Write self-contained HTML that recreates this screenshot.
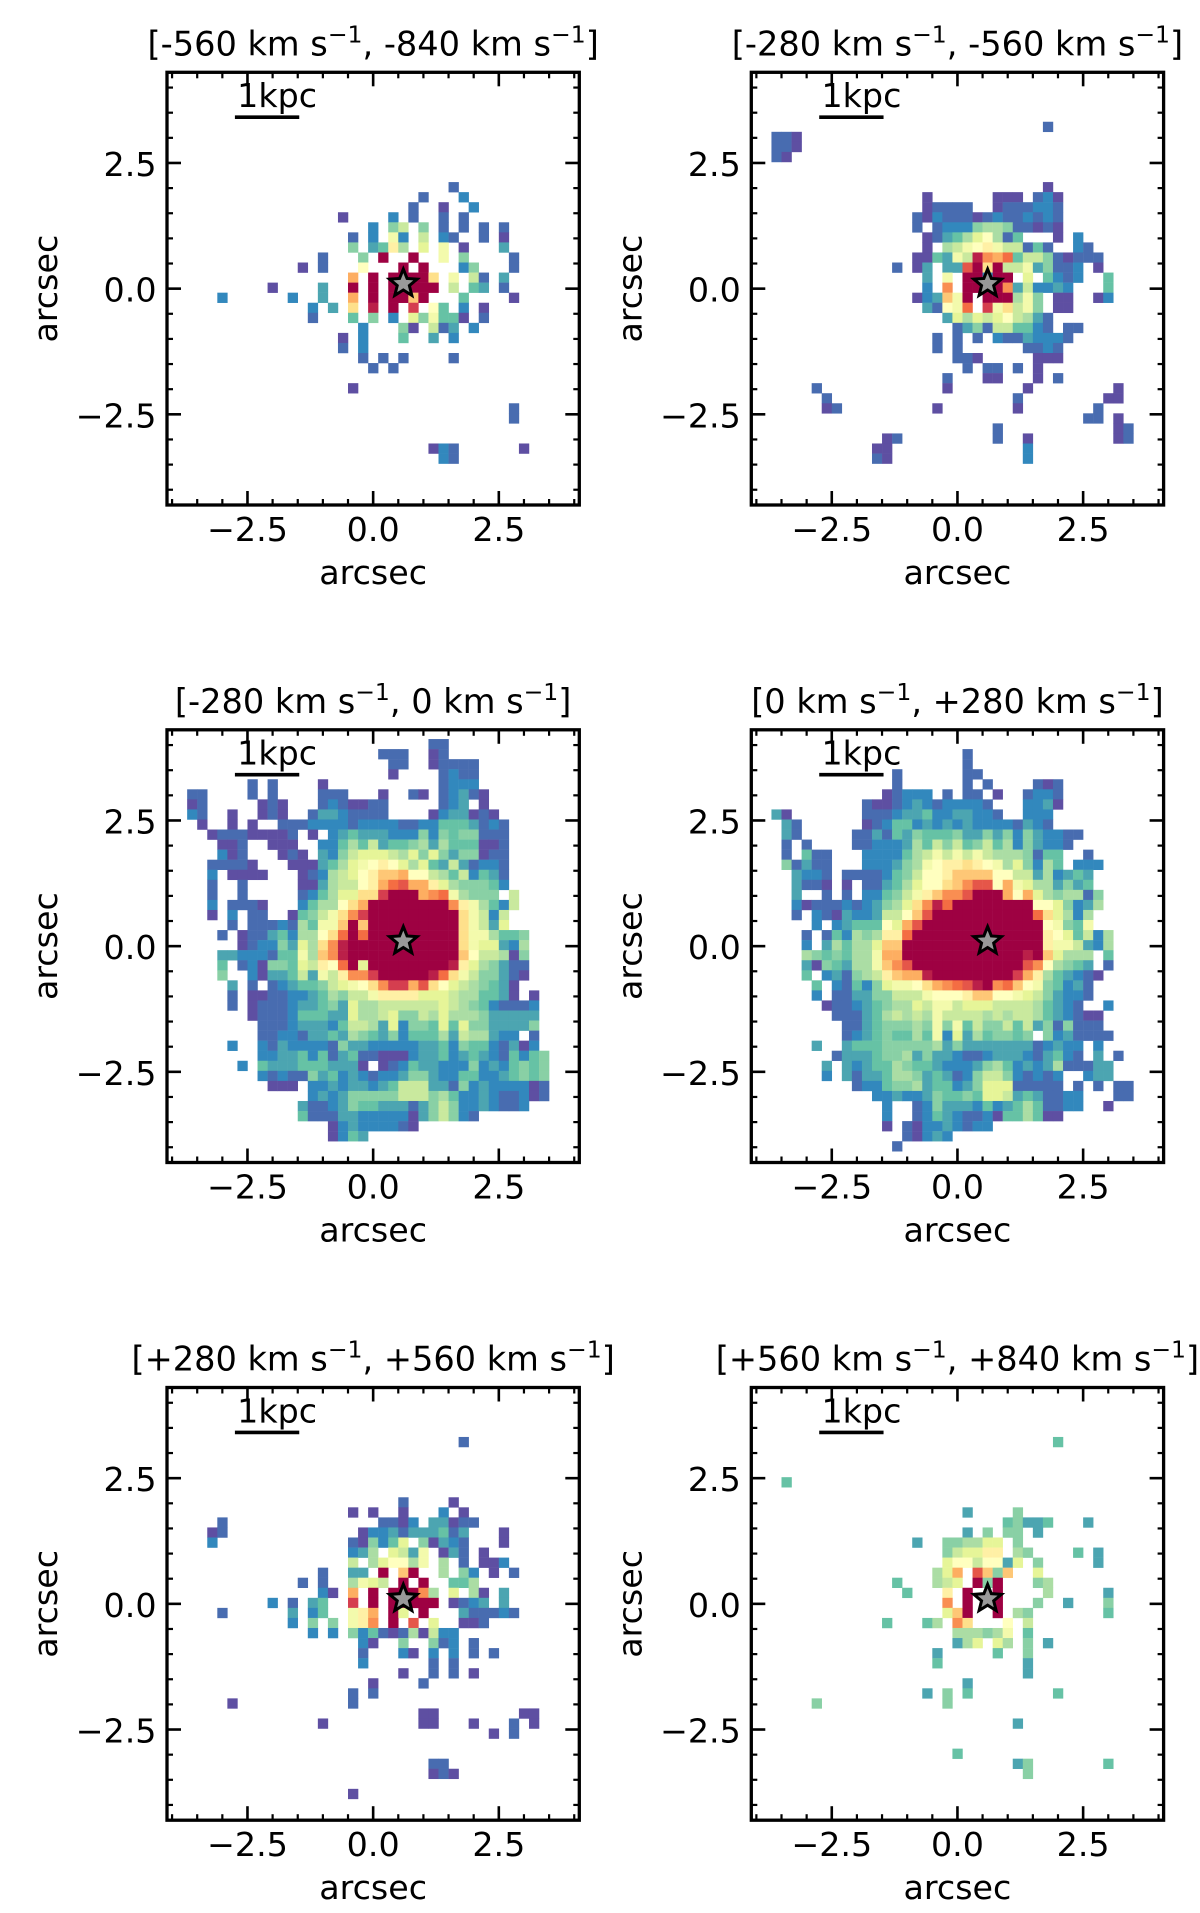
<!DOCTYPE html>
<html lang="en">
<head>
<meta charset="utf-8">
<title>Velocity channel maps</title>
<style>
html,body{margin:0;padding:0;background:#fff;width:1200px;height:1913px;overflow:hidden}
svg{display:block}
text{font-family:"DejaVu Sans","Liberation Sans",sans-serif;fill:#000}
</style>
</head>
<body>
<svg id="figure" xmlns="http://www.w3.org/2000/svg" width="1200" height="1913" viewBox="0 0 1200 1913"></svg>
<script>
// Each entry: [row index, first column index, value, value, ...]; holes are masked pixels.
// A pixel is 0.2 arcsec wide; values run from 0 (faint) to 20 (bright).
const panel1Cells = [
[10,8,1],[9,5,1,,,,2],[8,4,1,,,0,,,2],[7,-3,0,,,,,2,,1,,,1,,1],
[6,0,2,,5,7,,5,,1,,1,,1,,1],[5,-2,1,,2,,9,2,,7,,2,1,,,1,,0],
[4,-2,5,,3,4,11,6,,8,,9,,0,,,,3],[3,-5,1,,,,5,,20,,,20,,,9,,5,,,,,1],
[2,-7,0,,1,,,,10,,,,20,,20,,,,2,5,,,,1],[1,-2,14,,20,,20,20,20,20,12,,9,,7,1,,3],
[0,-10,0,,,,,3,,,20,,20,,20,20,20,20,20,,7,,4,3,,1],
[-1,-15,2,,,,,,,2,,,3,,,14,,20,,20,20,13,20,,,,4,,,,,0],
[-2,-6,2,,3,,12,,19,,20,,18,,10,4,,2,,0],[-3,-6,1,,,,4,,5,,2,,8,5,9,4,4,0,,1],
[-4,-1,2,,,,5,0,,7,1,3,,2],[-5,-3,0,,2,,,,4,,,3,,2],[-6,-3,1,,2],
[-7,-1,1,,1,,1,,,,,1],[-8,0,1,,1],[-10,-2,0],[-12,14,1],[-13,14,1],
[-16,6,0,2,1,,,,,,,0],[-17,7,2,1]
];
const panel2Cells = [
[16,9,1],[15,-18,1,1,0],[14,-18,1,1,0],[13,-18,1,0],[10,9,0],
[9,-3,0,,,,,,,0,0,0,,1,2,0],[8,-3,0,1,1,1,1,,,0,1,1,1,2,2,1],
[7,-4,1,0,2,1,1,1,0,1,2,1,1,2,1,2,1],[6,-4,1,,1,2,2,2,5,6,6,5,1,1,0,1,0],
[5,-3,0,1,3,4,6,8,10,6,1,4,,,,0,,2],[4,-3,0,,6,7,9,10,11,9,7,7,1,4,1,,,2,1],
[3,-4,0,0,4,3,9,7,19,15,14,16,4,7,7,5,1,0,1,1,1],
[2,-6,1,,0,3,,3,3,17,20,12,20,7,7,9,3,5,1,1,2,,0],
[1,-3,3,,9,,20,20,2,20,20,,8,,4,2,1,2,,,4],
[0,-3,2,,15,,20,20,20,20,15,3,7,2,2,3,2,,,,4],
[-1,-4,0,2,3,13,9,20,,20,20,20,6,9,5,,0,0,,,0,2],
[-2,-3,3,1,10,9,16,,18,9,12,7,9,5,,0,0],[-3,-1,3,8,6,8,7,8,10,7,6,3,1],
[-4,0,1,3,5,1,7,7,4,4,2,1,,1,1],[-5,-2,1,,1,,1,,2,1,1,3,2,2,2,1],
[-6,-2,1,,1,,,,,,,1,1,2,1],[-7,0,1,1,0,,,,,,0,0,0],[-8,1,1,,1,1,,1,,0],
[-9,-1,1,,,,0,0,,,,0,,1],[-10,-14,1],[-10,-1,0],[-10,7,0],[-10,16,0],
[-11,-13,1],[-11,6,1],[-11,15,0,0],[-12,-13,0,1],[-12,-2,0],[-12,6,0],[-12,14,1],
[-13,13,1,1],[-13,16,0],[-14,4,1],[-14,16,0,1],[-15,-7,0,1],[-15,4,1],[-15,7,0],[-15,16,0,1],
[-16,-8,0,0],[-16,7,2],[-17,-8,1,0],[-17,7,2]
];
const panel3Cells = [
[20,6,1,1],[19,1,1,1,1],[19,6,0,1],[18,2,1,1],[18,6,0,1,1,1,1],[17,2,0],[17,7,1,2,1,1],
[16,-12,1],[16,-10,1],[16,-5,0],[16,7,1,2,2,2],
[15,-18,1,1],[15,-12,1],[15,-10,1],[15,-5,1,1,1],[15,1,0],[15,4,1,0],[15,7,1,2,3,1,0],
[14,-18,0,1],[14,-11,0,1,0],[14,-5,1,2,1,0,0,1,1],[14,7,1,2,3],[14,11,0],
[13,-18,2,1],[13,-14,0],[13,-11,0,1,0],[13,-6,1,3,3,2,1,1,1,1],[13,6,0,2,3,3,0,1,0],
[12,-17,0],[12,-14,0],[12,-12,0],[12,-9,1,1,1,2,2,2,2,1,2,2,2,2,1,1,2,2,4,4,4,3,1,2,1],
[11,-16,0,1,1,1,0,0,0,0,1],[11,-6,0],[11,-4,2,3,4,3,3,3,2,2,2,5,2,5,4,5,5,1,1,1],
[10,-15,0,0,1],[10,-10,0,0,0],[10,-5,2,2,4,6,4,7,3,4,4,5,6,3,6,4,4,4,0,0,1],
[9,-15,2,0,1],[9,-9,0,1,0],[9,-5,3,2,5,7,8,8,8,7,6,8,5,8,5,3,5,5,0,1,1],
[8,-16,1,1,1,1,0],[8,-8,0,0,0,3,4,6,8,9,10,11,10,8,6,8,4,3,7,3,1,2,2,1],
[7,-16,2],[7,-14,0,0,0,0],[7,-7,0,1,2,6,7,8,10,11,13,13,14,10,10,7,6,4,7,2,4,3,1],
[6,-16,1],[6,-13,1],[6,-7,0,0,3,6,7,7,10,11,14,16,17,14,14,11,8,6,5,5,5,4,2],
[5,-16,1],[5,-13,1],[5,-7,1,2,4,6,8,8,12,12,18,20,20,20,14,15,16,9,6,5,5,5],[5,14,7],
[4,-16,2],[4,-14,1,1,1,0],[4,-7,2,4,6,6,10,12,14,20,20,20,20,20,20,20,20,15,11,9,6,4,2,7],
[3,-16,0],[3,-14,2],[3,-12,1,1],[3,-8,0,4,5,7,9,12,15,18,20,20,20,20,20,20,20,20,20,12,9,7,2,7],
[2,-14,1],[2,-12,1,1,1,2,1,6,4,9,9,13,20,13,20,20,20,20,20,20,20,20,20,12,9,7,3,8],
[1,-15,1],[1,-13,0,1,1,3,4,2,6,6,10,12,16,20,16,20,20,20,20,20,20,20,20,20,12,9,9,6,4,4,5],
[0,-13,0,1,2,2,5,3,8,6,12,15,19,20,20,20,20,20,20,20,20,20,20,20,12,9,8,8,3,2,6],
[-1,-15,3,3,2,2,2,1,4,4,9,6,13,15,19,20,20,20,20,20,20,20,20,20,20,20,13,10,7,7,6,0,5],
[-2,-15,4],[-2,-13,1,2,0,5,5,4,8,7,11,10,16,20,8,20,20,20,20,20,20,20,20,19,11,8,6,5,3,1,1],
[-3,-15,5],[-3,-12,2,0,3,3,4,7,3,9,7,11,15,15,18,20,20,20,20,20,19,16,12,9,7,5,5,3,1,0],
[-4,-14,3],[-4,-12,1],[-4,-10,1,2,3,4,4,5,7,8,9,10,12,15,18,18,14,17,12,10,8,7,6,5,4,3,0],
[-5,-14,1],[-5,-12,0,0,1,1,2,2,3,4,6,5,7,7,9,11,11,11,11,8,8,8,7,6,6,4,4,3,0],[-5,16,0],
[-6,-14,1],[-6,-12,0,1,1,1,2,3,3,4,5,3,8,6,6,7,7,7,7,7,7,8,7,6,5,4,2,1,1,1,2],
[-7,-12,0,1,1,1,2,4,4,4,3,3,8,6,6,7,8,5,5,7,6,8,6,6,6,5,3,3,3,3,3],
[-8,-11,1,1,1,2,3,3,3,2,4,7,7,6,3,8,2,5,5,4,8,4,8,5,5,3,3,3,3,5],
[-9,-11,1,1,2,2,1,3,3,4,3,6,5,4,3,5,2,4,4,4,6,3,7,6,6,3,2,2],[-9,16,1],
[-10,-14,2],[-10,-11,2,1,3,2,2,2,2,1,5,3,3,2,2,2,2,2,3,3,4,2,5,4,4,2,1,3,0,2],
[-11,-11,2,2,3,3,4,2,4,1,3,4,1,1,0,0,0,2,3,3,4,2,3,4,3,2,1,4,2,4,5],
[-12,-13,2],[-12,-11,4,3,3,3,4,4,4,3,3,3,0],[-12,1,0,1,2,4,3,3,2,2,2,5,2,3,2,4,5,4,5],
[-13,-11,2,1,2,1,1,5,3,4,2,3,2,1,2,2,3,5,5,3,2,2,4,4,2,2,3,4,5,4,5],
[-14,-10,0,0,0],[-14,-6,2,2,3,2,3,3,2,3,4,7,7,7,3,3,1,5,2,3,2,2,2,2,0,1],
[-15,-6,2,3,2,3,5,5,5,5,5,7,7,7,5,6,4,2,2,3,2,1,1,2,0,1],
[-16,-7,3,1,1,2,3,5,4,4,3,3,3,1,3,5,7,5,2,2,3,2,1,1,2],
[-17,-7,4,1,1,1,3,3,2,2,2,2,2,0,3,5,7,5,2,1],
[-18,-4,0,2,3,2,2,2,2,1,0],[-19,-4,0,2,4,3]
];
const panel4Cells = [
[19,1,1],[18,1,1],[17,-6,1],[17,1,1,1],[16,-6,1],[16,1,1],[16,3,1],[16,8,1,0,1],
[15,-7,0,1,2,2,2],[15,-1,1],[15,1,1,1],[15,4,0],[15,7,1,2,2,1],
[14,-9,1,0,0,1,2,3,2,1,2,2,2,2,1],[14,7,2,2,3,0],
[13,-18,3,0],[13,-9,1,1,1,2,3,3,4,2,2,3,3,2,2,1],[13,7,2,2,2],
[12,-17,3,1],[12,-9,0,1,2,4,4,2,3,2,3,2,3,2,2,2,2,1,3,2,1],
[11,-17,3,1],[11,-10,1,1,3,1,4,3,5,4,4,4,5,3,3,5,3,5,2,5,3,2,2,1,1],
[10,-17,1],[10,-15,1],[10,-10,1,1,2,2,2,3,6,4,7,5,7,4,5,7,4,6,2,5,3,2,2,1],
[9,-17,1],[9,-15,4,1,1],[9,-9,2,2,2,2,4,6,7,9,7,9,7,9,7,6,6,6,5,1,4,4],[9,13,1],
[8,-17,5,1,3,1,1],[8,-9,2,2,2,3,5,6,9,10,11,11,12,11,10,9,6,8,5,2,6,4],[8,12,2,2,2],
[7,-16,3,2,2,1],[7,-11,1,1,1,1,2,4,5,7,10,10,11,13,13,13,13,10,10,7,7,3,6,2,3,4,3],
[6,-16,3,1,1,0],[6,-11,0],[6,-9,1,1,3,4,6,8,10,10,12,13,15,17,17,10,14,9,8,6,6,3,5,3,4],
[5,-16,3],[5,-13,1],[5,-11,1],[5,-9,2,2,4,5,7,9,11,13,15,15,17,20,20,20,14,10,14,8,6,5,6,6,1,5],
[4,-16,2,0,1,1,1,2,1,2,3,5,6,8,12,15,19,16,20,20,20,20,20,20,20,20,10,10,8,5,2,3,6],
[3,-16,1],[3,-14,2,1,0,3,2,2,3,7,7,10,13,17,20,20,20,20,20,20,20,20,20,20,16,12,8,6,2,6],
[2,-14,2],[2,-12,2,3,4,4,4,10,8,14,17,20,20,20,20,20,20,20,20,20,20,20,20,10,9,5,4,9],
[1,-15,1],[1,-13,1,4,2,6,5,6,11,11,16,20,20,20,20,20,20,20,20,20,20,20,20,20,11,10,8,4,7,2,6],
[0,-15,2],[0,-13,3,6,4,6,6,8,13,13,20,20,20,20,20,20,20,20,20,20,20,20,20,20,11,9,9,7,3,2,6],
[-1,-15,6,5,4,5,4,6,6,9,14,14,20,20,20,20,20,20,20,20,20,20,20,20,19,20,13,8,6,6,6],[-1,15,4],
[-2,-15,3,0,5,4,3,6,6,9,13,15,17,20,20,20,20,20,20,20,20,20,20,20,17,15,10,6,5,4,3],[-2,15,1],
[-3,-15,4],[-3,-13,2,3,1,5,6,7,11,13,14,14,19,20,20,20,20,20,20,20,20,18,14,11,6,4,3,2,1,0],
[-4,-14,4],[-4,-12,2,1,4,2,5,8,9,9,10,12,14,15,16,17,19,20,15,16,13,10,9,5,4,2,3,1],
[-5,-14,2],[-5,-12,1,1,3,3,5,5,7,7,7,9,10,10,10,11,13,13,10,10,9,8,7,5,3,2,2,1],
[-6,-13,0,1,1,2,3,4,5,6,6,8,7,9,9,7,8,8,8,7,7,7,7,6,4,3,2,1],[-6,15,2],
[-7,-12,1,1,1,3,4,6,7,6,7,6,9,7,7,7,7,6,7,6,7,7,6,4,3,2,1,0,0],
[-8,-11,1,1,3,4,5,5,5,6,5,9,5,9,4,7,5,5,7,4,7,3,5,1,5,1,1,1],
[-9,-11,1,2,3,4,5,4,4,6,4,9,2,8,3,6,4,5,5,4,5],[-9,9,5,2,3,1,1,1,1],
[-10,-14,3],[-10,-11,3,4,4,4,5,5,5,5,5,6,3,5,3,3,3,3,3,3,3,1,2,3,2,2],[-10,14,2],
[-11,-12,1,3,3,3,4,5,5,6,3,5,3,3,2,1,1,2,3,3,3,2,1,3,4,2,1],[-11,14,3],[-11,16,1],
[-12,-13,3],[-12,-11,3,2,3,4,4,6,5,4,4,3,2,2,2,3,5,6,4,2,3,2,3,6,1,1,1,3,3],
[-13,-13,2],[-13,-11,3,1,3,3,4,6,6,5,3,4,3,1,2,5,7,7,5,2,1,2,1,2],[-13,13,2,3,3],
[-14,-10,1,2,2,4,5,5,6,3,4,4,2,3,5,8,8,8,1,1,1,1,1],[-14,12,1],[-14,14,1],[-14,16,1,1],
[-15,-8,2,2,3,2,2,3,5,4,4,5,4,8,8,7,3,4,3,1,1,2,2],[-15,16,1,1],
[-16,-7,2],[-16,-4,1,2,5,3,3,3,2,4,2,3,4,6,4,1,1,2,2],[-16,15,0],
[-17,-7,2],[-17,-4,1,2,4,3,2,1,1,2,0,4,4,6,4,0,0],
[-18,-7,0],[-18,-5,1,0,2,2,3,2,1,2,2],[-19,-5,1,0,2,3,2],[-20,-6,1]
];
const panel5Cells = [
[16,9,1],[10,3,1],[10,8,0],[9,-2,0],[9,0,0],[9,3,0],[9,7,2],[9,9,0],
[8,-15,1],[8,1,1,1,0,2],[8,6,3,3,0,1,1],
[7,-16,0,1],[7,-1,0,2,2,3,1,3,3,3,4,1,3],[7,13,0],
[6,-16,2],[6,-2,1,0,5,2,4,8],[6,5,5,0,3,2,1],[6,13,0],
[5,-2,2,3,6],[5,2,8,7,3,9],[5,7,0,3,1],[5,11,0],
[4,-2,7],[4,0,6,8,10,10,6,9],[4,7,6],[4,9,1],[4,11,0,0,2],
[3,-5,1],[3,-2,3,3],[3,1,20],[3,3,13,20],[3,7,6],[3,9,5,2],[3,12,0],[3,14,1],
[2,-7,1],[2,-5,1],[2,-2,6,9,8,7],[2,3,20],[2,5,20],[2,8,4,4,6],
[1,-5,2,0],[1,-2,14],[1,0,20],[1,2,20,20,20,15,6],[1,8,8],[1,10,6,0],[1,13,3],
[0,-10,2],[0,-8,1],[0,-6,3,4],[0,-2,18],[0,0,20],[0,2,20,20,20,20,20],[0,8,0,1,2,3],[0,13,3],
[-1,-15,1],[-1,-8,3],[-1,-6,2,4],[-1,-2,9,11,14],[-1,2,20,8],[-1,5,20],[-1,9,3,1,1,1,2,1],
[-2,-8,2],[-2,-6,5],[-2,-4,5],[-2,-2,9,11,15],[-2,2,20],[-2,4,17],[-2,6,8],[-2,9,0,0,1],
[-3,-6,2],[-3,-4,2],[-3,-2,5,2,4,1,0,1,6,0,7,2,2],
[-4,-1,2,0],[-4,3,5],[-4,6,5,1,2],[-4,10,1],
[-5,-1,1],[-5,3,2,0],[-5,6,2],[-5,8,2],[-5,10,1],[-5,12,1],
[-6,-1,2],[-6,6,1],[-6,8,1],[-7,3,0],[-7,6,1],[-7,8,1],[-7,10,0],
[-8,0,0],[-8,5,1],[-9,-2,1],[-9,0,1],[-10,-14,0],[-10,-2,1],
[-11,5,0,0],[-11,15,0,0],[-12,-5,0],[-12,5,0,0],[-12,10,0],[-12,14,1],[-12,16,0],
[-13,12,0],[-13,14,1],[-16,6,1,1],[-17,6,0,1,0],[-19,-2,0]
];
const panel6Cells = [
[16,10,4],[12,-17,4],[9,1,3],[9,6,5],[8,5,4,5,3,3,4],[8,13,3],
[7,1,3],[7,3,5],[7,5,5,5],[7,8,3],[6,-4,3],[6,-1,5,5,6,6,8,8],[6,6,5],
[5,-1,5,7,8,8,11,11],[5,6,6,5],[5,12,4],[5,14,3],
[4,-1,8,10,10,7,10,10,3,8],[4,8,5],[4,14,3],
[3,-2,6,8,14],[3,2,17,13,5,13],[3,8,8],
[2,-6,4],[2,-2,6,7,8],[2,2,20,5,20],[2,8,5,6],
[1,-5,4],[1,-1,11],[1,1,20],[1,4,20],[1,9,6],[1,15,3],
[0,-1,15],[0,1,20],[0,4,20],[0,8,5],[0,11,3],[0,15,5],
[-1,-1,8,13,20],[-1,4,20],[-1,6,6,5],[-1,15,4],
[-2,-7,4],[-2,-3,4,6],[-2,0,15,12],[-2,5,10],[-2,7,7],
[-3,0,6,6,6,5,6,9],[-3,7,4],[-4,0,3,6,8],[-4,4,8,6],[-4,7,5],[-4,9,3],
[-5,-2,3],[-5,4,4],[-5,7,5],[-6,-2,4],[-6,7,3],[-7,7,3],[-8,1,3],
[-9,-3,3],[-9,-1,5],[-9,1,4],[-9,10,4],[-10,-14,5],[-10,-1,5],
[-12,6,3],[-15,0,4],[-16,6,3,5],[-16,15,4],[-17,7,5]
];
const panelBoundsLow = ["-560","-280","-280","0","+280","+560"];
const panelBoundsHigh = ["-840","-560","0","+280","+560","+840"];
const majorTickValues = [-2.5,0,2.5];
const majorTickLabels = ["\u22122.5","0.0","2.5"];
const minorTickValues = [-4,-3.5,-3,-2,-1.5,-1,-0.5,0.5,1,1.5,2,3,3.5,4];
const starPosition = [0.6,0.1];
const scaleBarRange = [-2.75,-1.47];
const scaleBarLevel = [3.41];
const spectralStops = ["#5e4fa2","#3288bd","#66c2a5","#abdda4","#e6f598","#ffffbf","#fee08b","#fdae61","#f46d43","#d53e4f","#9e0142"];

const allPanels = [panel1Cells,panel2Cells,panel3Cells,panel4Cells,panel5Cells,panel6Cells];
const svgNS = "http://www.w3.org/2000/svg";
const figure = document.getElementById("figure");
const columnLefts = [167,751.3];
const rowTops = [72.3,729.8,1387.5];
const axisWidth = 412.3;
const axisHeight = 432.7;
const pxPerArcsec = 50.27;
const cellStep = 0.2;
const rowOffset = 0.02;
const labelFont = "33.3";
const titleFont = "33.6";

function hexToRgb(h){
  return [parseInt(h.slice(1,3),16),parseInt(h.slice(3,5),16),parseInt(h.slice(5,7),16)];
}
function colorFor(v){
  const t = Math.max(0,Math.min(1,v/20))*(spectralStops.length-1);
  const k = Math.min(Math.floor(t),spectralStops.length-2);
  const f = t-k;
  const a = hexToRgb(spectralStops[k]);
  const b = hexToRgb(spectralStops[k+1]);
  return "rgb("+a.map(function(c,n){return Math.round(c+(b[n]-c)*f);}).join(",")+")";
}
function make(tag,attrs,parent){
  const el = document.createElementNS(svgNS,tag);
  Object.keys(attrs).forEach(function(k){el.setAttribute(k,attrs[k]);});
  parent.appendChild(el);
  return el;
}

allPanels.forEach(function(cells,p){
  const left = columnLefts[p%2];
  const top = rowTops[Math.floor(p/2)];
  const right = left+axisWidth;
  const bottom = top+axisHeight;
  const xScale = function(v){return left+axisWidth/2+v*pxPerArcsec;};
  const yScale = function(v){return top+axisHeight/2-v*pxPerArcsec;};

  const group = make("g",{},figure);
  
  

  const heat = make("g",{},group);
  
  
  cells.forEach(function(segment){
    const row = segment[0];
    const firstCol = segment[1];
    segment.slice(2).forEach(function(value,offset){
      const col = firstCol+offset;
      const rect = make("rect",{
        x:xScale(col*cellStep-cellStep/2).toFixed(2),
        y:yScale(row*cellStep+rowOffset+cellStep/2).toFixed(2),
        width:(cellStep*pxPerArcsec+0.25).toFixed(2),
        height:(cellStep*pxPerArcsec+0.25).toFixed(2),
        fill:colorFor(value)
      },heat);
      
      
    });
  });

  const ticks = make("g",{stroke:"#000"},group);
  
  
  function addTicks(values,len,w){
    values.forEach(function(v){
      const x = xScale(v).toFixed(2);
      const y = yScale(v).toFixed(2);
      make("line",{x1:x,x2:x,y1:bottom,y2:bottom-len,"stroke-width":w},ticks);
      make("line",{x1:x,x2:x,y1:top,y2:top+len,"stroke-width":w},ticks);
      make("line",{x1:left,x2:left+len,y1:y,y2:y,"stroke-width":w},ticks);
      make("line",{x1:right,x2:right-len,y1:y,y2:y,"stroke-width":w},ticks);
    });
  }
  addTicks(majorTickValues,14,2.6);
  addTicks(minorTickValues,6,2.2);

  const spine = make("rect",{x:left,y:top,width:axisWidth,height:axisHeight,fill:"none",stroke:"#000","stroke-width":3.3},group);
  
  

  majorTickValues.forEach(function(v,n){
    const xt = make("text",{x:xScale(v).toFixed(2),y:bottom+36,"text-anchor":"middle","font-size":labelFont},group);
    xt.textContent = majorTickLabels[n];
    
    
    const yt = make("text",{x:left-10.5,y:(yScale(v)+13).toFixed(2),"text-anchor":"end","font-size":labelFont},group);
    yt.textContent = majorTickLabels[n];
    
    
  });

  const xLabel = make("text",{x:left+axisWidth/2,y:bottom+79,"text-anchor":"middle","font-size":labelFont},group);
  xLabel.textContent = "arcsec";
  
  
  const ly = top+axisHeight/2;
  const lx = left-110;
  const yLabel = make("text",{x:lx,y:ly,"text-anchor":"middle","font-size":labelFont,transform:"rotate(-90 "+lx+" "+ly+")"},group);
  yLabel.textContent = "arcsec";
  
  

  const title = make("text",{x:left+axisWidth/2,y:top-17,"text-anchor":"middle","font-size":titleFont},group);
  
  
  const parts = ["["+panelBoundsLow[p]+" km s","\u22121",", "+panelBoundsHigh[p]+" km s","\u22121","]"];
  parts.forEach(function(t,n){
    const attrs = {};
    if(n%2===1){attrs["font-size"]="23.5";attrs["dy"]="-13";}
    else if(n>0){attrs["dy"]="13";}
    const span = make("tspan",attrs,title);
    span.textContent = t;
  });

  const bar = make("line",{x1:xScale(scaleBarRange[0]).toFixed(2),x2:xScale(scaleBarRange[1]).toFixed(2),y1:yScale(scaleBarLevel[0]).toFixed(2),y2:yScale(scaleBarLevel[0]).toFixed(2),stroke:"#000","stroke-width":3.6},group);
  
  
  const barText = make("text",{x:xScale((scaleBarRange[0]+scaleBarRange[1])/2+0.2).toFixed(2),y:(yScale(scaleBarLevel[0])-10).toFixed(2),"text-anchor":"middle","font-size":labelFont},group);
  barText.textContent = "1kpc";
  
  

  const pts = [];
  for(let k=0;k<10;k++){
    const r = k%2===0?14.5:14.5*0.44;
    const a = -Math.PI/2+k*Math.PI/5;
    pts.push((xScale(starPosition[0])+r*Math.cos(a)).toFixed(2)+","+(yScale(starPosition[1])+r*Math.sin(a)).toFixed(2));
  }
  const star = make("polygon",{points:pts.join(" "),fill:"#999999",stroke:"#000","stroke-width":3,"stroke-linejoin":"miter","stroke-miterlimit":"10"},group);
  
  
});
</script>
</body>
</html>
